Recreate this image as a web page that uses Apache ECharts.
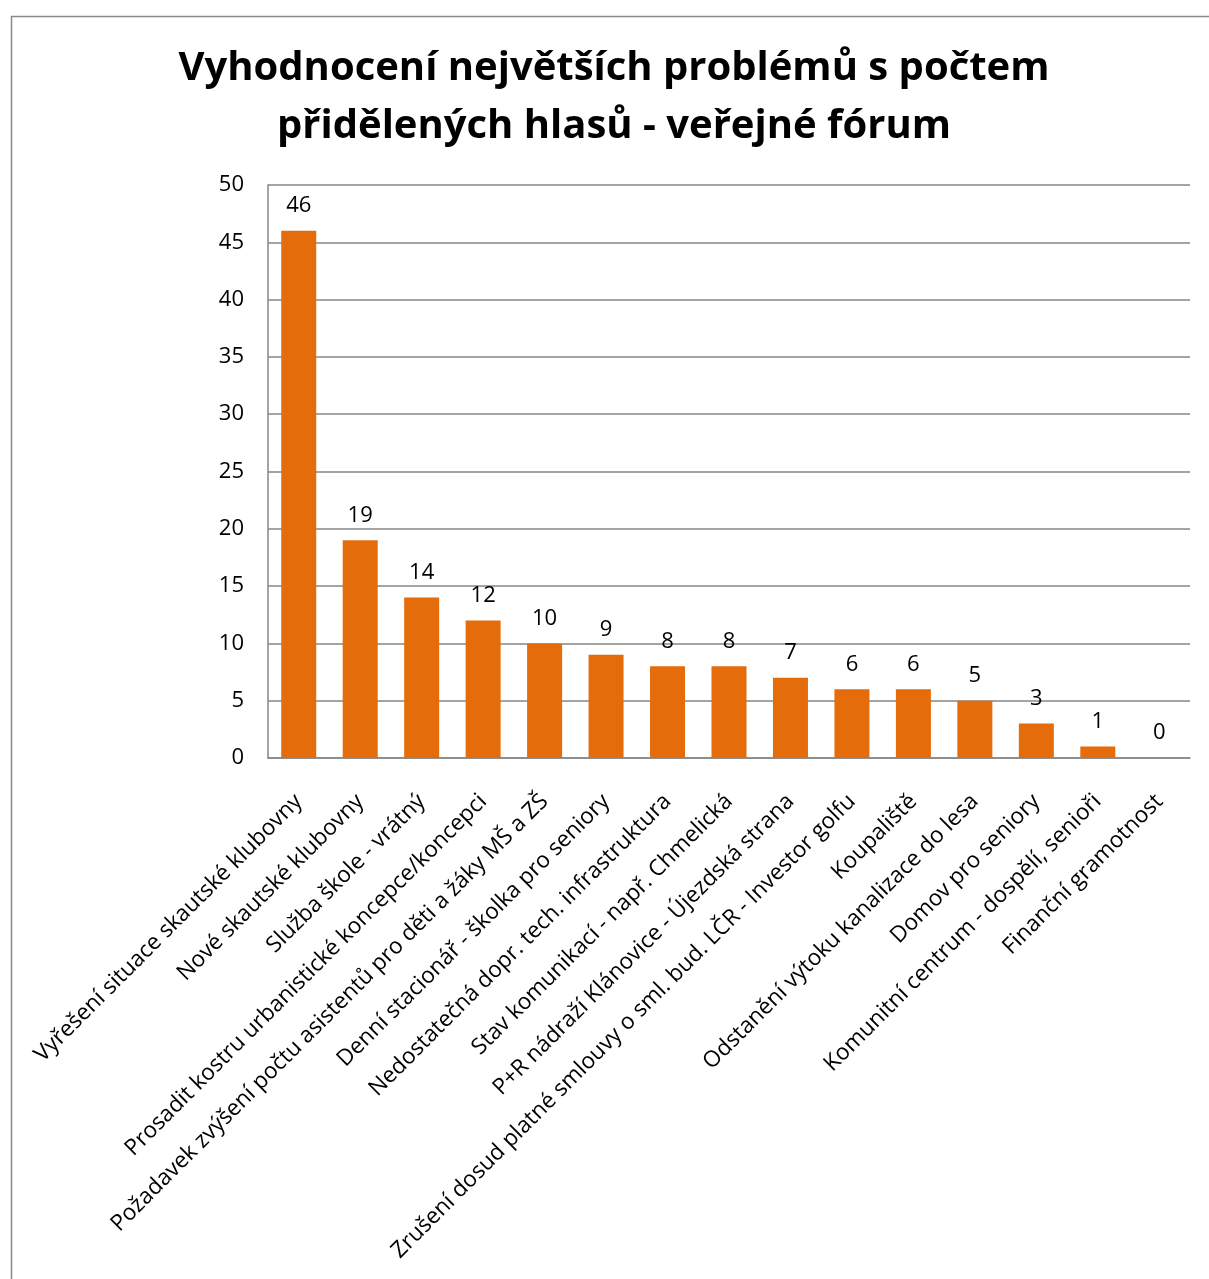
<!DOCTYPE html>
<html><head><meta charset="utf-8">
<script src="https://cdn.jsdelivr.net/npm/echarts@6/dist/echarts.min.js"></script>
<style>html,body{margin:0;padding:0;background:#fff}#c{width:1209px;height:1279px}</style>
</head><body><div id="c"></div>
<script>
const titleText = 'Vyhodnocení největších problémů s počtem\npřidělených hlasů - veřejné fórum';
const categories = [
  'Vyřešení situace skautské klubovny',
  'Nové skautské klubovny',
  'Služba škole - vrátný',
  'Prosadit kostru urbanistické koncepce/koncepci',
  'Požadavek zvýšení počtu asistentů pro děti a žáky MŠ a ZŠ',
  'Denní stacionář - školka pro seniory',
  'Nedostatečná dopr. tech. infrastruktura',
  'Stav komunikací - např. Chmelická',
  'P+R nádraží Klánovice - Újezdská strana',
  'Zrušení dosud platné smlouvy o sml. bud. LČR - Investor golfu',
  'Koupaliště',
  'Odstanění výtoku kanalizace do lesa',
  'Domov pro seniory',
  'Komunitní centrum - dospělí, senioři',
  'Finanční gramotnost'
];
const votes = [46, 19, 14, 12, 10, 9, 8, 8, 7, 6, 6, 5, 3, 1, 0];
const yTicks = {min: 0, max: 50, interval: 5};

const font = '"Open Sans", "Noto Sans", sans-serif';
const chart = echarts.init(document.getElementById('c'), null, {renderer: 'canvas'});
chart.setOption({
  animation: false,
  backgroundColor: '#fff',
  graphic: [{
    type: 'rect', left: 9, top: 14,
    shape: {width: 1260, height: 1320},
    style: {fill: 'none', stroke: '#8a8a8a', lineWidth: 1.5}, silent: true
  }],
  title: {
    text: titleText, left: 609, top: 35, textAlign: 'center',
    textStyle: {fontFamily: font, fontWeight: 'bold', fontSize: 40, lineHeight: 58, color: '#000'}
  },
  grid: {left: 268, right: 19, top: 185, bottom: 1279 - 758, containLabel: false},
  xAxis: {
    type: 'category', data: categories,
    axisLine: {lineStyle: {color: '#868686', width: 1.5}},
    axisTick: {show: false},
    axisLabel: {rotate: 45, interval: 0, margin: 40, fontFamily: font, fontSize: 22.5, color: '#000'}
  },
  yAxis: {
    type: 'value', min: yTicks.min, max: yTicks.max, interval: yTicks.interval,
    axisLine: {show: true, lineStyle: {color: '#868686', width: 1.5}},
    axisTick: {show: false},
    splitLine: {lineStyle: {color: '#868686', width: 1.5}},
    axisLabel: {margin: 24, fontFamily: font, fontSize: 22, color: '#000'}
  },
  series: [{
    type: 'bar', data: votes, barWidth: 35,
    itemStyle: {color: '#E46C0A'},
    label: {show: true, position: 'top', distance: 14, fontFamily: font, fontSize: 22, color: '#000'}
  }]
});
</script></body></html>
